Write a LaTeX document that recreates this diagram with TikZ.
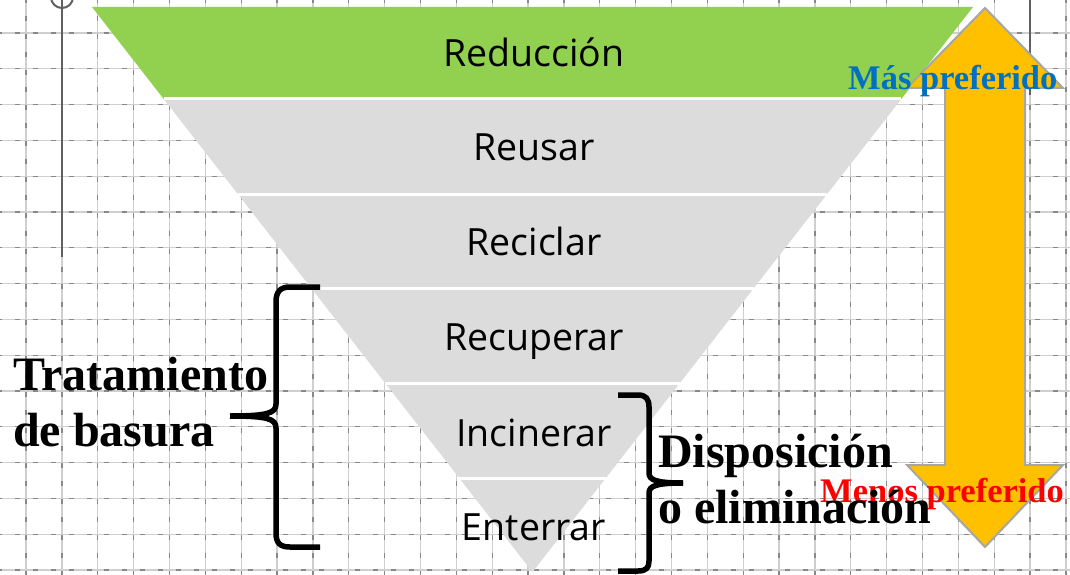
\documentclass[tikz,border=0pt]{standalone}
\usepackage{fontspec}
\setmainfont{Liberation Serif}
\newfontfamily\funnelfont{Open Sans}
\definecolor{bandgreen}{HTML}{92D050}
\definecolor{bandgray}{HTML}{DCDCDC}
\definecolor{arroworange}{HTML}{FFC000}
\definecolor{arrowedge}{HTML}{A6A6A6}
\definecolor{masblue}{HTML}{0070C0}
\definecolor{menosred}{HTML}{FF0000}
\definecolor{gridlight}{HTML}{CFCFCF}
\definecolor{griddark}{HTML}{888888}
\definecolor{axisgray}{HTML}{606060}
\tikzset{
  gridbase/.style={gridlight, line width=1.3pt},
  griddash/.style={griddark, line width=1.3pt, dash pattern=on 5pt off 12.9pt},
  sep/.style={white, line width=3pt},
  label/.style={font=\funnelfont\fontsize{37.5}{42}\selectfont, inner sep=0pt, anchor=base},
  bigbold/.style={font=\bfseries\fontsize{48}{56}\selectfont, inner sep=0pt, anchor=base west},
  prefbold/.style={font=\bfseries\fontsize{34.5}{38}\selectfont, inner sep=0pt, anchor=base west},
  bracestyle/.style={black, line width=5.5pt, line join=round},
}
\begin{document}
\begin{tikzpicture}[x=1pt,y=-1pt]
\useasboundingbox (0,0) rectangle (1070,575);
\fill[white] (0,0) rectangle (1070,575);
\begin{scope}
\clip (0,0) rectangle (1070,575);
% grid
\foreach \k in {-1,...,29} {
  \pgfmathsetmacro{\gx}{26+35.86*\k}
  \draw[gridbase] (\gx,0) -- (\gx,575);
  \draw[griddash] (\gx,-2) -- (\gx,575);
}
\foreach \k in {-1,...,15} {
  \pgfmathsetmacro{\gy}{33+35.8*\k}
  \draw[gridbase] (0,\gy) -- (1070,\gy);
  \draw[griddash] (-3,\gy) -- (1070,\gy);
}
% axis-like lines
\draw[axisgray, line width=2.5pt] (62,0) -- (62,257);
\draw[axisgray, line width=2pt] (62,-3) circle (11);
\draw[axisgray, line width=2pt] (1030,0) -- (1030,95);
\end{scope}
% funnel bands
\fill[bandgreen] (92,7) -- (973,7) -- (901.3,99) -- (163.7,99) -- cycle;
\fill[bandgray] (163.7,99) -- (901.3,99) -- (827.2,194) -- (237.8,194) -- cycle;
\fill[bandgray] (237.8,194) -- (827.2,194) -- (753.9,288) -- (311.1,288) -- cycle;
\fill[bandgray] (311.1,288) -- (753.9,288) -- (679.9,383) -- (385.1,383) -- cycle;
\fill[bandgray] (385.1,383) -- (679.9,383) -- (605.8,478) -- (459.2,478) -- cycle;
\fill[bandgray] (459.2,478) -- (605.8,478) -- (532.5,572) -- cycle;
\draw[sep] (163.7,99) -- (901.3,99);
\draw[sep] (237.8,194) -- (827.2,194);
\draw[sep] (311.1,288) -- (753.9,288);
\draw[sep] (385.1,383) -- (679.9,383);
\draw[sep] (459.2,478) -- (605.8,478);
% labels
\node[label] (reduccion) at (534,67) {Reducción};
\node[label] (reusar) at (534,160) {Reusar};
\node[label] (reciclar) at (534,255) {Reciclar};
\node[label] (recuperar) at (534,350) {Recuperar};
\node[label] (incinerar) at (534,446) {Incinerar};
\node[label] (enterrar) at (534,540) {Enterrar};
% double arrow
\draw[fill=arroworange, draw=arrowedge, line width=2pt, line join=miter]
  (985,8) -- (1063,88) -- (1025,88) -- (1025,465) -- (1063,465) -- (985,547)
  -- (907,465) -- (945,465) -- (945,88) -- (907,88) -- cycle;
% braces
\draw[bracestyle] (320,287) -- (290,287) .. controls (280,287) and (276,292) .. (276,302)
  -- (276,404) .. controls (276,413) and (268,416) .. (230,416);
\draw[bracestyle] (230,416) .. controls (268,416) and (276,419) .. (276,428)
  -- (276,533) .. controls (276,543) and (280,547) .. (290,547) -- (320,547);
\draw[bracestyle] (618,395) -- (638,395) .. controls (646,395) and (649,399) .. (649,407)
  -- (649,473) .. controls (649,480) and (656,483) .. (683,483);
\draw[bracestyle] (683,483) .. controls (656,483) and (649,486) .. (649,493)
  -- (649,561) .. controls (649,568) and (646,571) .. (638,571) -- (618,571);
% preference labels
\node[prefbold, text=masblue] (mas) at (848,90) {Más preferido};
\node[prefbold, text=menosred] (menos) at (820,502) {Menos preferido};
% bracket texts
\node[bigbold] (trat1) at (13,390) {Tratamiento};
\node[bigbold] (trat2) at (13,446) {de basura};
\node[bigbold] (disp1) at (658,467) {Disposición};
\node[bigbold] (disp2) at (658,523) {o eliminación};
\end{tikzpicture}
\end{document}
